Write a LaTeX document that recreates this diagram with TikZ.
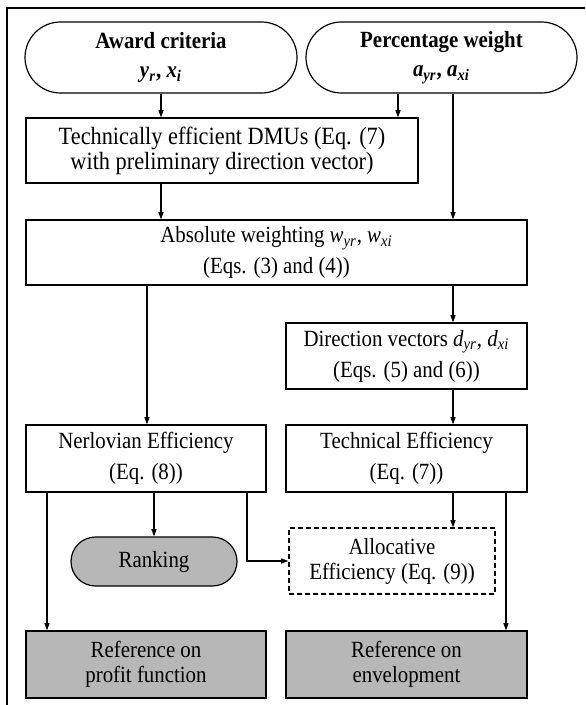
\documentclass[tikz,border=0pt]{standalone}
\usepackage{fontspec}
\setmainfont{Liberation Serif}[FakeStretch=0.9]
\usepackage{xcolor}
\usepackage{tikz}
\usetikzlibrary{arrows.meta,shapes.misc}

\definecolor{boxgray}{RGB}{183,183,183}
\newcommand{\ivar}[2]{\textit{#1}\textsubscript{\textit{#2}}}

\begin{document}
\begin{tikzpicture}[x=0.5pt,y=-0.5pt,line width=0.6pt,>={Triangle[length=3.6pt,width=2.5pt]},
  txt/.style={font=\fontsize{11.6}{12.5}\selectfont,align=center},
  txtwide/.style={font=\fontsize{11.6}{15.5}\selectfont,align=center},
  pill/.style={rounded rectangle,draw,inner sep=0pt},
  box/.style={rectangle,draw,inner sep=0pt}]
  \useasboundingbox (0,0) rectangle (585,705);
  \draw (7,705) -- (7,8) -- (585,8);

  \node[pill,txtwide,font=\fontsize{11.6}{14.5}\selectfont,minimum width=136pt,minimum height=35.5pt] (award) at (161,57.5) {\textbf{Award criteria}\\\textbf{\ivar{y}{r}, \ivar{x}{i}}};
  \node[pill,txtwide,font=\fontsize{11.6}{14.5}\selectfont,minimum width=135.5pt,minimum height=35.5pt] (perc) at (441.5,57.5) {\textbf{Percentage weight}\\\textbf{\ivar{a}{yr}, \ivar{a}{xi}}};
  \node[box,txt,font=\fontsize{12.4}{12.5}\selectfont,minimum width=196pt,minimum height=32.5pt] (tdmu) at (222,150.5) {Technically efficient DMUs (Eq. (7)\\with preliminary direction vector)};
  \node[box,txtwide,minimum width=250.5pt,minimum height=32.5pt] (absw) at (276.5,252.5) {Absolute weighting \ivar{w}{yr}, \ivar{w}{xi}\\(Eqs. (3) and (4))};
  \node[box,txtwide,minimum width=120.5pt,minimum height=33pt] (dirv) at (406.5,356) {Direction vectors \ivar{d}{yr}, \ivar{d}{xi}\\(Eqs. (5) and (6))};
  \node[box,txtwide,minimum width=120pt,minimum height=33.5pt] (nerl) at (146,458.5) {Nerlovian Efficiency\\(Eq. (8))};
  \node[box,txtwide,minimum width=120.5pt,minimum height=33.5pt] (teff) at (406.5,458.5) {Technical Efficiency\\(Eq. (7))};
  \node[pill,txt,fill=boxgray,minimum width=83pt,minimum height=24.5pt] (rank) at (154,561.5) {Ranking};
  \node[box,txt,dash pattern=on 2.5pt off 1.5pt,minimum width=103pt,minimum height=33pt] (alloc) at (392,561) {Allocative\\Efficiency (Eq. (9))};
  \node[box,txt,fill=boxgray,minimum width=120pt,minimum height=33.5pt] (refp) at (146,664.5) {Reference on\\profit function};
  \node[box,txt,fill=boxgray,minimum width=120.5pt,minimum height=33.5pt] (refe) at (406.5,664.5) {Reference on\\envelopment};

  \draw[->] (award.south) -- (award.south |- tdmu.north);
  \draw[->] (398,0 |- perc.south) -- (398,0 |- tdmu.north);
  \draw[->] (453,0 |- perc.south) -- (453,0 |- absw.north);
  \draw[->] (award.south |- tdmu.south) -- (award.south |- absw.north);
  \draw[->] (147,0 |- absw.south) -- (147,0 |- nerl.north);
  \draw[->] (453,0 |- absw.south) -- (453,0 |- dirv.north);
  \draw[->] (453,0 |- dirv.south) -- (453,0 |- teff.north);
  \draw[->] (47,0 |- nerl.south) -- (47,0 |- refp.north);
  \draw[->] (rank.north |- nerl.south) -- (rank.north);
  \draw[->] (247,0 |- nerl.south) |- (alloc.west);
  \draw[->] (453,0 |- teff.south) -- (453,0 |- alloc.north);
  \draw[->] (506,0 |- teff.south) -- (506,0 |- refe.north);
\end{tikzpicture}
\end{document}
